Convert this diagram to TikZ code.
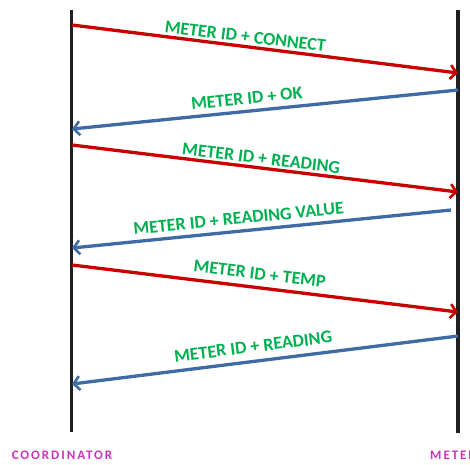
\documentclass[tikz,border=0pt]{standalone}
\usepackage{fontspec}
\setmainfont{Carlito}
\usetikzlibrary{arrows.meta}
\definecolor{msgred}{HTML}{C80000}
\definecolor{msgblue}{HTML}{3E6BA5}
\definecolor{lblgreen}{HTML}{00B050}
\definecolor{roleviolet}{HTML}{CC33BB}
\tikzset{
  lifeline/.style={line width=3pt, draw=black!88},
  reqarrow/.style={line width=3.3pt, draw=msgred, -{Straight Barb[length=6pt,width=14pt,line width=2.6pt]}},
  resarrow/.style={line width=3.3pt, draw=msgblue, -{Straight Barb[length=6pt,width=14pt,line width=2.6pt]}},
  msglabel/.style={sloped, inner sep=0pt, text=lblgreen, font=\bfseries\fontsize{18}{20}\selectfont},
  rolelabel/.style={inner sep=0pt, text=roleviolet, font=\bfseries\fontsize{13}{15}\selectfont\addfontfeatures{LetterSpace=15}}
}
\begin{document}
\begin{tikzpicture}[x=1pt,y=-1pt]
\useasboundingbox (0,0) rectangle (470,464);
% lifelines
\coordinate (ctop) at (71,10);
\coordinate (cbot) at (71,432);
\coordinate (mtop) at (458,10);
\coordinate (mbot) at (458,433);
\draw[lifeline] (ctop) -- (cbot);
\draw[lifeline, line width=4pt] (mtop) -- (mbot);
% message end points
\coordinate (c1) at (72,25);   \coordinate (m1) at (458,73);
\coordinate (m2) at (458,90);  \coordinate (c2) at (72,129);
\coordinate (c3) at (72,145);  \coordinate (m3) at (458,192);
\coordinate (m4) at (451,210); \coordinate (c4) at (72,248);
\coordinate (c5) at (72,265);  \coordinate (m5) at (458,312);
\coordinate (m6) at (458,336); \coordinate (c6) at (72,384);
% messages
\draw[reqarrow] (c1) -- node[msglabel, above=2.6pt, pos=0.446] (l1) {METER ID + CONNECT} (m1);
\draw[resarrow] (m2) -- node[msglabel, above=5.2pt, pos=0.544] (l2) {METER ID + OK} (c2);
\draw[reqarrow] (c3) -- node[msglabel, above=2.2pt, pos=0.487] (l3) {METER ID + READING} (m3);
\draw[resarrow] (m4) -- node[msglabel, above=5.2pt, pos=0.557] (l4) {METER ID + READING VALUE} (c4);
\draw[reqarrow] (c5) -- node[msglabel, above=6.2pt, pos=0.482] (l5) {METER ID + TEMP} (m5);
\draw[resarrow] (m6) -- node[msglabel, above=7.2pt, pos=0.526] (l6) {METER ID + READING} (c6);
% roles
\node[rolelabel] (coord) at (62,455) {COORDINATOR};
\node[rolelabel, anchor=west] (meter) at (430,455) {METER};
\end{tikzpicture}
\end{document}
